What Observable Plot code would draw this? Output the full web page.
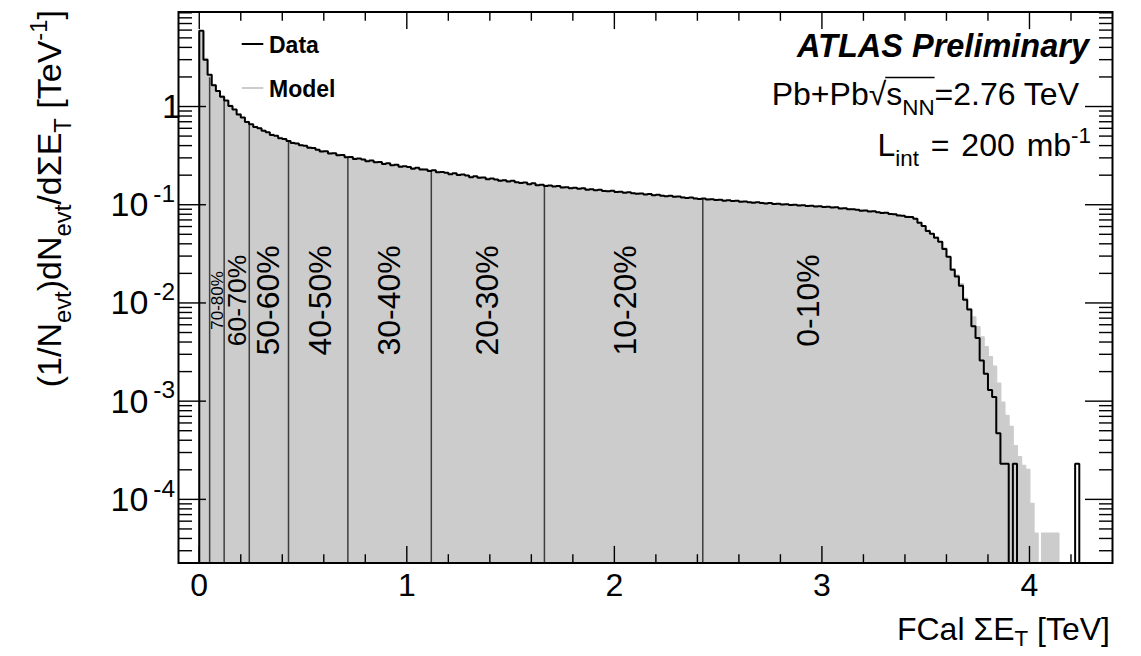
<!DOCTYPE html>
<html>
<head>
<meta charset="utf-8">
<script src="https://cdn.jsdelivr.net/npm/d3@7"></script>
<script src="https://cdn.jsdelivr.net/npm/@observablehq/plot@0.6"></script>
<style>
  html, body { margin: 0; padding: 0; background: #fff; }
  #chart svg text { font-family: "Liberation Sans", Arial, Helvetica, sans-serif; }
</style>
</head>
<body>
<div id="chart"></div>
<script>
// FCal sum E_T distribution, 0.02 TeV bins starting at 0 TeV
const binWidth = 0.02;
const yFloor = 2.25e-5;   // bottom of the log axis; empty bins are drawn down to it
const yTop = 9.17;
const xLo = -0.1, xHi = 4.4;

// Model (filled grey histogram), per-bin 1/N dN/dET in TeV^-1
const modelValues = [
  5.6, 3.07, 2.08, 1.67, 1.42, 1.27, 1.14, 1.025, 0.923, 0.837,
  0.766, 0.700, 0.653, 0.624, 0.596, 0.568, 0.542, 0.519, 0.499, 0.480,
  0.461, 0.443, 0.430, 0.418, 0.406, 0.395, 0.384, 0.373, 0.362, 0.353,
  0.345, 0.337, 0.330, 0.322, 0.315, 0.308, 0.302, 0.297, 0.292, 0.287,
  0.282, 0.277, 0.272, 0.268, 0.263, 0.259, 0.255, 0.251, 0.248, 0.244,
  0.240, 0.237, 0.233, 0.230, 0.227, 0.223, 0.220, 0.217, 0.214, 0.211,
  0.208, 0.206, 0.203, 0.200, 0.197, 0.194, 0.192, 0.190, 0.187, 0.185,
  0.182, 0.180, 0.178, 0.176, 0.174, 0.172, 0.170, 0.168, 0.166, 0.164,
  0.162, 0.160, 0.158, 0.157, 0.1555, 0.154, 0.153, 0.1517, 0.150, 0.149,
  0.1477, 0.1465, 0.1452, 0.144, 0.1428, 0.1416, 0.1403, 0.139, 0.138, 0.1368,
  0.1356, 0.1345, 0.1334, 0.1324, 0.1313, 0.1302, 0.1291, 0.128, 0.127, 0.1259,
  0.125, 0.124, 0.123, 0.122, 0.121, 0.120, 0.119, 0.118, 0.1172, 0.1162,
  0.1153, 0.1146, 0.1138, 0.113, 0.1122, 0.1115, 0.111, 0.110, 0.1094, 0.1087,
  0.108, 0.1072, 0.1065, 0.1057, 0.105, 0.1045, 0.1038, 0.1031, 0.1024, 0.1019,
  0.1012, 0.1005, 0.100, 0.0993, 0.0988, 0.0982, 0.0975, 0.097, 0.0964, 0.0959,
  0.0953, 0.0947, 0.0942, 0.0933, 0.0923, 0.0914, 0.0904, 0.0895, 0.0885, 0.0877,
  0.0867, 0.0859, 0.0849, 0.0841, 0.0832, 0.082, 0.0807, 0.0794, 0.0782, 0.0769,
  0.0757, 0.0745, 0.0712, 0.066, 0.060, 0.0546, 0.0501, 0.0467, 0.0416, 0.036,
  0.029, 0.0222, 0.0191, 0.0156, 0.0111, 0.00875, 0.00716, 0.00569, 0.00447, 0.00355,
  0.00282, 0.00226, 0.00151, 0.00097, 0.00071, 0.00055, 0.00035, 0.00027, 0.00022, 0.0002,
  0.00009, 0.000045, 0, 0.000045, 0.000045, 0.000045, 0.000045, 0, 0, 0,
  0, 0
];

// Data (black step line), same binning
const dataValues = [
  5.9, 3.0, 2.1, 1.65, 1.44, 1.26, 1.15, 1.01, 0.93, 0.83,
  0.772, 0.694, 0.66, 0.619, 0.601, 0.566, 0.548, 0.514, 0.503, 0.476,
  0.466, 0.445, 0.425, 0.421, 0.404, 0.399, 0.380, 0.378, 0.363, 0.349,
  0.350, 0.333, 0.334, 0.319, 0.321, 0.305, 0.306, 0.293, 0.296, 0.289,
  0.277, 0.282, 0.270, 0.272, 0.260, 0.264, 0.252, 0.255, 0.244, 0.247,
  0.242, 0.233, 0.238, 0.228, 0.229, 0.221, 0.225, 0.214, 0.216, 0.212,
  0.204, 0.209, 0.201, 0.203, 0.198, 0.191, 0.195, 0.188, 0.189, 0.182,
  0.185, 0.181, 0.175, 0.178, 0.172, 0.175, 0.169, 0.166, 0.168, 0.162,
  0.165, 0.158, 0.160, 0.155, 0.157, 0.153, 0.155, 0.150, 0.151, 0.147,
  0.149, 0.1455, 0.147, 0.1425, 0.144, 0.1405, 0.1418, 0.1383, 0.1372, 0.1385,
  0.1348, 0.1352, 0.1322, 0.1338, 0.131, 0.129, 0.1305, 0.1272, 0.1283, 0.125,
  0.1262, 0.1236, 0.1221, 0.1232, 0.1203, 0.1211, 0.1186, 0.1172, 0.1184, 0.1158,
  0.1146, 0.116, 0.1131, 0.1138, 0.1115, 0.1124, 0.1098, 0.1109, 0.109, 0.1095,
  0.1072, 0.108, 0.1062, 0.1049, 0.1061, 0.104, 0.1032, 0.1043, 0.1018, 0.1025,
  0.1004, 0.1012, 0.0994, 0.1001, 0.0982, 0.099, 0.0969, 0.0978, 0.0958, 0.0964,
  0.0946, 0.0955, 0.0937, 0.094, 0.0917, 0.0921, 0.0897, 0.0901, 0.0888, 0.087,
  0.0874, 0.0853, 0.0856, 0.0838, 0.0826, 0.0828, 0.0803, 0.0799, 0.0778, 0.0774,
  0.0752, 0.0748, 0.0718, 0.0655, 0.0607, 0.054, 0.0506, 0.0462, 0.042, 0.0355,
  0.0295, 0.0218, 0.0186, 0.015, 0.0108, 0.0086, 0.0058, 0.0044, 0.0026, 0.0019,
  0.0013, 0.0011, 0.00047, 0.00023, 0.00023, 0, 0.00023, 0, 0, 0,
  0, 0, 0, 0, 0, 0, 0, 0, 0, 0,
  0, 0.00023
];

// Centrality class boundaries (TeV) and the height of the distribution there
const centralityEdges = [0.05, 0.12, 0.241, 0.43, 0.716, 1.118, 1.663, 2.426];
const centralityEdgeTops = [1.96, 1.22, 0.667, 0.443, 0.305, 0.223, 0.157, 0.115];
const centralityNames = ["70-80%", "60-70%", "50-60%", "40-50%", "30-40%", "20-30%", "10-20%", "0-10%"];
const centralityLabelX = [0.089, 0.182, 0.337, 0.583, 0.920, 1.392, 2.053, 2.937];
const centralityLabelSize = [17, 26.5, 32, 32, 32, 32, 32, 32];
const centralityLabelY = 0.0106;

// Axis ticks
const xMajorTicks = [0, 1, 2, 3, 4];
const xMinorTicks = [0.2, 0.4, 0.6, 0.8, 1.2, 1.4, 1.6, 1.8, 2.2, 2.4, 2.6, 2.8, 3.2, 3.4, 3.6, 3.8, 4.2];
const yMajorTicks = [1e-4, 1e-3, 1e-2, 1e-1, 1];
const yMinorTicks = [
  3e-5, 4e-5, 5e-5, 6e-5, 7e-5, 8e-5, 9e-5,
  2e-4, 3e-4, 4e-4, 5e-4, 6e-4, 7e-4, 8e-4, 9e-4,
  2e-3, 3e-3, 4e-3, 5e-3, 6e-3, 7e-3, 8e-3, 9e-3,
  0.02, 0.03, 0.04, 0.05, 0.06, 0.07, 0.08, 0.09,
  0.2, 0.3, 0.4, 0.5, 0.6, 0.7, 0.8, 0.9,
  2, 3, 4, 5, 6, 7, 8, 9
];
const yTickBase = ["10", "10", "10", "10", "1"];
const yTickExp = ["-4", "-3", "-2", "-1", ""];

const legendNames = ["Data", "Model"];
const legendColors = ["black", "#cccccc"];

const FONT = '"Liberation Sans", Arial, Helvetica, sans-serif';

// histogram outline as step vertices; empty bins fall to the axis floor
function stepVertices(values) {
  const v = values.map(d => (d > 0 ? d : yFloor));
  const pts = [{x: 0, y: yFloor}];
  v.forEach((d, i) => pts.push({x: i * binWidth, y: d}));
  pts.push({x: v.length * binWidth, y: v[v.length - 1]});
  pts.push({x: v.length * binWidth, y: yFloor});
  return pts;
}
const modelSteps = stepVertices(modelValues);
const dataSteps = stepVertices(dataValues);

const edgeTable = centralityEdges.map((x, i) => ({x, top: centralityEdgeTops[i]}));
const labelTable = centralityNames.map((name, i) => ({name, x: centralityLabelX[i], size: centralityLabelSize[i]}));

const noLabel = () => "";
const chart = Plot.plot({
  width: 1141,
  height: 656,
  marginLeft: 178,
  marginRight: 29,
  marginTop: 11.5,
  marginBottom: 93.5,
  style: {fontFamily: FONT, background: "white", color: "black"},
  x: {domain: [xLo, xHi], label: null},
  y: {type: "log", domain: [yFloor, yTop], label: null},
  marks: [
    Plot.areaY(modelSteps, {x: "x", y1: yFloor, y2: "y", curve: "step-after", fill: "#cccccc"}),
    Plot.line(modelSteps, {x: "x", y: "y", curve: "step-after", stroke: "#cccccc", strokeWidth: 2}),
    Plot.ruleX(edgeTable, {x: "x", y1: yFloor, y2: "top", stroke: "#3d3d3d", strokeWidth: 1.5}),
    Plot.text(labelTable, {x: "x", y: centralityLabelY, text: "name", rotate: -90, fontSize: d => d.size, fill: "black"}),
    Plot.line(dataSteps, {x: "x", y: "y", curve: "step-after", stroke: "black", strokeWidth: 2, strokeLinejoin: "miter", strokeLinecap: "butt"}),
    // inward ticks on all four sides
    Plot.axisX(xMajorTicks, {anchor: "bottom", tickSize: -16.6, tickFormat: noLabel, strokeWidth: 1.4}),
    Plot.axisX(xMinorTicks, {anchor: "bottom", tickSize: -8.3, tickFormat: noLabel, strokeWidth: 1.4}),
    Plot.axisX(xMajorTicks, {anchor: "top", tickSize: -16.6, tickFormat: noLabel, strokeWidth: 1.4}),
    Plot.axisX(xMinorTicks, {anchor: "top", tickSize: -8.3, tickFormat: noLabel, strokeWidth: 1.4}),
    Plot.axisY(yMajorTicks, {anchor: "left", tickSize: -28, tickFormat: noLabel, strokeWidth: 1.4}),
    Plot.axisY(yMinorTicks, {anchor: "left", tickSize: -14, tickFormat: noLabel, strokeWidth: 1.4}),
    Plot.axisY(yMajorTicks, {anchor: "right", tickSize: -28, tickFormat: noLabel, strokeWidth: 1.4}),
    Plot.axisY(yMinorTicks, {anchor: "right", tickSize: -14, tickFormat: noLabel, strokeWidth: 1.4}),
    Plot.frame({stroke: "black", strokeWidth: 2}),
    Plot.axisX(xMajorTicks, {anchor: "bottom", tickSize: 0, tickPadding: 10.5, fontSize: 32, tickFormat: d => String(d)})
  ]
});
document.getElementById("chart").append(chart);

const svg = d3.select(chart);
const sy = chart.scale("y");

// text with sub/superscript runs
function rich(text, parts, fs, subDrop = 0.3, scriptScale = 0.7) {
  let shift = 0;
  for (const p of parts) {
    const target = p.sub ? subDrop * fs : p.sup ? -0.42 * fs : 0;
    const ts = text.append("tspan").text(p.t);
    if (target !== shift) ts.attr("dy", target - shift);
    ts.attr("font-size", p.sub || p.sup ? scriptScale * fs : fs);
    shift = target;
  }
  return text;
}
function addText(x, y, anchor, fs) {
  return svg.append("text")
    .attr("x", x).attr("y", y)
    .attr("text-anchor", anchor)
    .attr("font-family", FONT)
    .attr("font-size", fs)
    .attr("fill", "black");
}

// y tick labels: 1, 10^-1 ... 10^-4
yMajorTicks.forEach((v, i) => {
  const t = addText(yTickExp[i] ? 175 : 181, sy.apply(v) + 12, "end", 34);
  const parts = [{t: yTickBase[i]}];
  if (yTickExp[i]) parts.push({t: "\u2009" + yTickExp[i], sup: true});
  rich(t, parts, 34, 0.3, 0.72);
});

// x axis title
rich(addText(1110, 640, "end", 32), [{t: "FCal \u03A3E"}, {t: "T", sub: true}, {t: " [TeV]"}], 32, 0.2);

// y axis title
rich(
  addText(0, 0, "end", 34).attr("transform", "translate(61,10) rotate(-90)"),
  [{t: "(1/N"}, {t: "evt", sub: true}, {t: ")dN"}, {t: "evt", sub: true}, {t: "/d\u03A3E"}, {t: "T", sub: true},
   {t: " [TeV"}, {t: "-1", sup: true}, {t: "]"}],
  34, 0.28
);

// ATLAS label and run conditions
addText(1089, 56.7, "end", 32.5).attr("font-weight", "bold").attr("font-style", "italic").text("ATLAS Preliminary");
const ppText = rich(addText(1079, 105, "end", 32),
  [{t: "Pb+Pb\u221As"}, {t: "NN", sub: true}, {t: "=2.76 TeV"}], 32);
{
  const node = ppText.node();
  const a = node.getExtentOfChar(5), b = node.getExtentOfChar(8);
  svg.append("line")
    .attr("x1", a.x + a.width - 1).attr("x2", b.x + b.width)
    .attr("y1", 105 - 27.5).attr("y2", 105 - 27.5)
    .attr("stroke", "black").attr("stroke-width", 1.5);
}
rich(addText(1091, 156, "end", 32).attr("word-spacing", 3),
  [{t: "L"}, {t: "int", sub: true}, {t: " = 200 mb"}, {t: "-1", sup: true}], 32);

// legend
legendNames.forEach((name, i) => {
  const yLine = 44 + i * 44;
  svg.append("line")
    .attr("x1", 241.7).attr("x2", 263.3).attr("y1", yLine).attr("y2", yLine)
    .attr("stroke", legendColors[i]).attr("stroke-width", 2);
  addText(269, yLine + 9, "start", 23).attr("font-weight", "bold").text(name);
});
</script>
</body>
</html>
